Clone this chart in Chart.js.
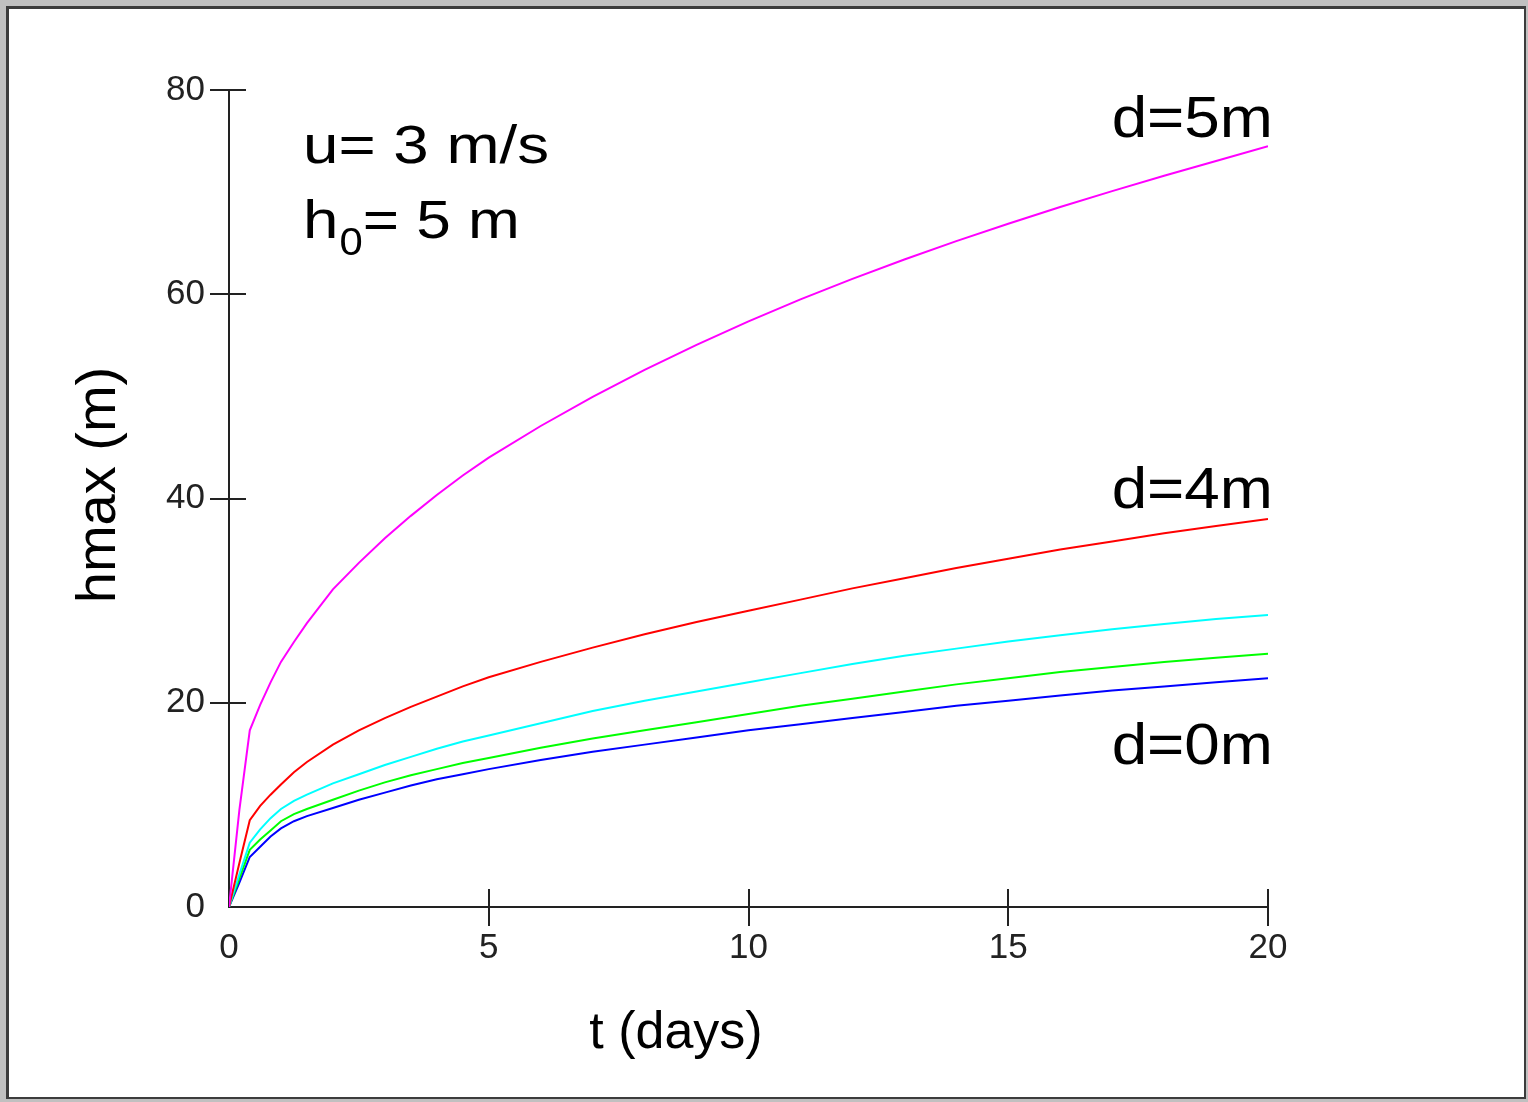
<!DOCTYPE html>
<html>
<head>
<meta charset="utf-8">
<script src="https://cdn.jsdelivr.net/npm/chart.js@4.4.1/dist/chart.umd.min.js"></script>
<style>
html, body { margin: 0; padding: 0; background: #c0c0c0; }
#frame {
  position: absolute; left: 6px; top: 6px; width: 1515px; height: 1088px;
  border-left: 3px solid #3c3c3c; border-top: 3px solid #3c3c3c;
  border-right: 2px solid #3c3c3c; border-bottom: 2px solid #3c3c3c;
  background: #fff;
}
canvas { display: block; }
</style>
</head>
<body>
<div id="frame"><canvas id="chart" width="1515" height="1088"></canvas></div>
<script>
// time in days
var days = [0, 0.2, 0.4, 0.6, 0.8, 1, 1.25, 1.5, 2, 2.5, 3, 3.5, 4, 4.5, 5,
            6, 7, 8, 9, 10, 11, 12, 13, 14, 15, 16, 17, 18, 19, 20];

// hmax (m) for each depth d
var hD5 = [0, 9.5, 17.3, 19.8, 22.0, 24.0, 25.95, 27.8, 31.1, 33.7, 36.1, 38.3, 40.35, 42.25, 44.0,
           47.1, 49.95, 52.6, 55.05, 57.35, 59.5, 61.5, 63.4, 65.2, 66.9, 68.55, 70.1, 71.6, 73.05, 74.5];
var hD4 = [0, 4.3, 8.5, 9.9, 11.0, 12.0, 13.2, 14.2, 15.9, 17.3, 18.5, 19.6, 20.6, 21.6, 22.5,
           24.0, 25.4, 26.7, 27.9, 29.0, 30.1, 31.2, 32.2, 33.2, 34.1, 35.0, 35.8, 36.6, 37.3, 38.0];
var hD3 = [0, 3.2, 6.3, 7.6, 8.7, 9.6, 10.4, 11.0, 12.1, 13.0, 13.9, 14.7, 15.5, 16.2, 16.8,
           18.0, 19.2, 20.2, 21.1, 22.0, 22.9, 23.8, 24.6, 25.3, 26.0, 26.6, 27.2, 27.7, 28.2, 28.6];
var hD2 = [0, 2.8, 5.6, 6.6, 7.5, 8.4, 9.1, 9.6, 10.5, 11.4, 12.2, 12.9, 13.5, 14.1, 14.6,
           15.6, 16.5, 17.3, 18.1, 18.9, 19.7, 20.4, 21.1, 21.8, 22.4, 23.0, 23.5, 24.0, 24.4, 24.8];
var hD0 = [0, 2.4, 4.9, 5.9, 6.9, 7.7, 8.4, 8.9, 9.7, 10.5, 11.2, 11.9, 12.5, 13.0, 13.5,
           14.4, 15.2, 15.9, 16.6, 17.3, 17.9, 18.5, 19.1, 19.7, 20.2, 20.7, 21.2, 21.6, 22.0, 22.4];

var seriesNames = ['d=5m', 'd=4m', 'd=3m', 'd=2m', 'd=0m'];
var seriesColors = ['#ff00ff', '#ff0000', '#00ffff', '#00ff00', '#0000ff'];

var FONT = "'Liberation Sans', Arial, sans-serif";

function toPoints(values) {
    return values.map(function (v, i) { return { x: days[i], y: v }; });
}

// tick marks crossing the axis lines
var crossTicks = {
    id: 'crossTicks',
    afterDraw: function (chart) {
        var ctx = chart.ctx, area = chart.chartArea;
        var xs = chart.scales.x, ys = chart.scales.y;
        ctx.save();
        ctx.strokeStyle = '#222';
        ctx.lineWidth = 2;
        ctx.beginPath();
        xs.ticks.forEach(function (t) {
            if (t.value === 0) return;
            var px = Math.round(xs.getPixelForValue(t.value));
            ctx.moveTo(px, area.bottom - 18);
            ctx.lineTo(px, area.bottom + 19);
        });
        ys.ticks.forEach(function (t) {
            if (t.value === 0) return;
            var py = Math.round(ys.getPixelForValue(t.value));
            ctx.moveTo(area.left - 19, py);
            ctx.lineTo(area.left + 17, py);
        });
        ctx.stroke();
        ctx.restore();
    }
};

function stretchText(ctx, text, x, y, size, sx, align) {
    ctx.save();
    ctx.font = size + 'px ' + FONT;
    var w = ctx.measureText(text).width * sx;
    var left = align === 'right' ? x - w : x;
    ctx.translate(left, y);
    ctx.scale(sx, 1);
    ctx.textAlign = 'left';
    ctx.fillText(text, 0, 0);
    ctx.restore();
    return left + w;
}

// axis titles and annotations
var labelsPlugin = {
    id: 'labels',
    afterDraw: function (chart) {
        var ctx = chart.ctx;
        ctx.save();
        ctx.fillStyle = '#000';
        ctx.textBaseline = 'alphabetic';

        // x axis title
        ctx.font = '52px ' + FONT;
        ctx.textAlign = 'center';
        ctx.fillText('t (days)', 667, 1039);

        // y axis title
        ctx.save();
        ctx.translate(106, 476);
        ctx.rotate(-Math.PI / 2);
        ctx.font = '56px ' + FONT;
        ctx.textAlign = 'center';
        ctx.fillText('hmax (m)', 0, 0);
        ctx.restore();

        // parameters
        stretchText(ctx, 'u= 3 m/s', 294, 154, 54, 1.18, 'left');
        var x = stretchText(ctx, 'h', 294, 229, 54, 1.18, 'left');
        x = stretchText(ctx, '0', x + 1, 246, 38, 1.1, 'left');
        stretchText(ctx, '= 5 m', x, 229, 54, 1.15, 'left');

        // curve labels
        stretchText(ctx, seriesNames[0], 1264, 128, 58, 1.1, 'right');
        stretchText(ctx, seriesNames[1], 1264, 499, 58, 1.1, 'right');
        stretchText(ctx, seriesNames[4], 1264, 755, 58, 1.1, 'right');
        ctx.restore();
    }
};

var allSeries = [hD5, hD4, hD3, hD2, hD0];

new Chart(document.getElementById('chart').getContext('2d'), {
    type: 'line',
    data: {
        datasets: allSeries.map(function (vals, i) {
            return {
                label: seriesNames[i],
                data: toPoints(vals),
                borderColor: seriesColors[i],
                borderWidth: 2,
                pointRadius: 0,
                fill: false,
                tension: 0
            };
        })
    },
    options: {
        responsive: false,
        animation: false,
        devicePixelRatio: 1,
        layout: { padding: { left: 0, top: 81, right: 256, bottom: 0 } },
        plugins: { legend: { display: false }, tooltip: { enabled: false } },
        scales: {
            x: {
                type: 'linear',
                min: 0,
                max: 20,
                afterFit: function (s) { s.height = 190; },
                ticks: { stepSize: 5, padding: 20, color: '#222', font: { family: FONT, size: 35 } },
                grid: { display: false, drawTicks: false },
                border: { color: '#222', width: 2 }
            },
            y: {
                type: 'linear',
                min: 0,
                max: 80,
                afterFit: function (s) { s.width = 220; },
                ticks: { stepSize: 20, padding: 24, color: '#222', font: { family: FONT, size: 35 } },
                grid: { display: false, drawTicks: false },
                border: { color: '#222', width: 2 }
            }
        }
    },
    plugins: [crossTicks, labelsPlugin]
});
</script>
</body>
</html>
